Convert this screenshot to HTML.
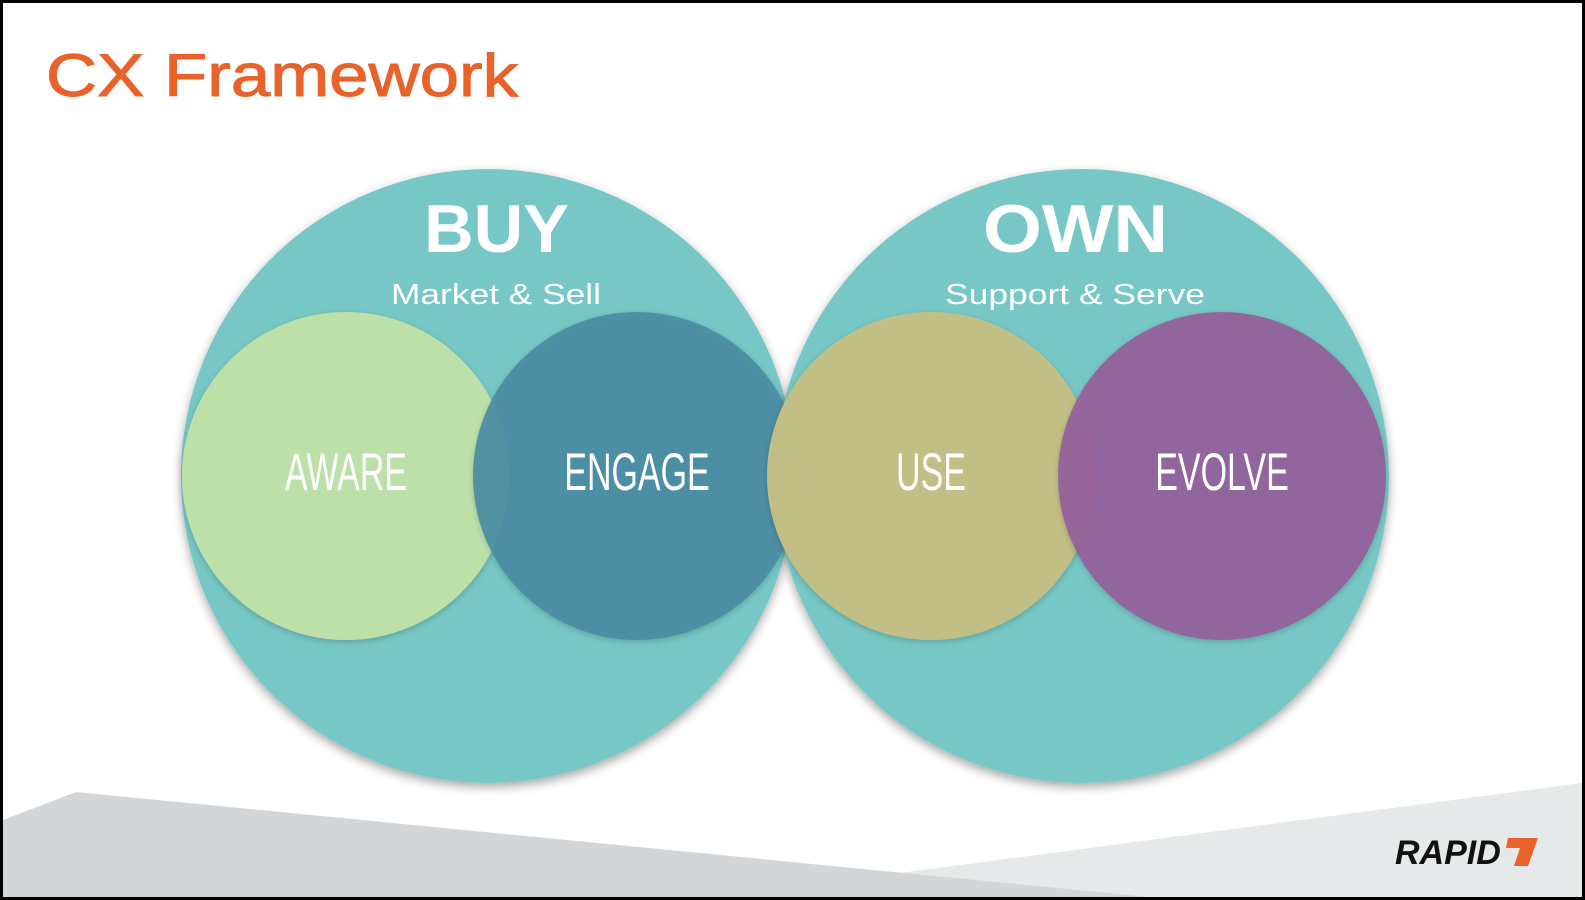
<!DOCTYPE html>
<html><head><meta charset="utf-8"><style>
html,body{margin:0;padding:0;background:#000}
svg{display:block}
</style></head><body>
<svg width="1585" height="900" viewBox="0 0 1585 900" xmlns="http://www.w3.org/2000/svg">
<defs>
<filter id="sh" x="-20%" y="-20%" width="140%" height="140%"><feDropShadow dx="0" dy="4" stdDeviation="5" flood-color="#000" flood-opacity="0.35"/></filter>
<filter id="sh2" x="-20%" y="-20%" width="140%" height="140%"><feDropShadow dx="0" dy="2" stdDeviation="3" flood-color="#000" flood-opacity="0.2"/></filter>
</defs>
<rect x="3" y="3" width="1579" height="894" fill="#fff"/>
<polygon points="1582,783 900,873 1150,897 1582,897" fill="#e6e9ea"/>
<polygon points="76,792 1150,897 3,897 3,820" fill="#d3d6d8"/>
<text x="46" y="96" font-family="Liberation Sans, sans-serif" font-size="60" fill="#e8622a" stroke="#e8622a" stroke-width="1" textLength="472" lengthAdjust="spacingAndGlyphs">CX Framework</text>
<circle cx="488" cy="476" r="307" fill="#76c7c5" filter="url(#sh)"/>
<circle cx="1082" cy="476" r="307" fill="#76c7c5" filter="url(#sh)"/>
<text x="424" y="252" font-family="Liberation Sans, sans-serif" font-weight="bold" font-size="68" fill="#fff" textLength="145" lengthAdjust="spacingAndGlyphs">BUY</text>
<text x="983" y="252" font-family="Liberation Sans, sans-serif" font-weight="bold" font-size="68" fill="#fff" textLength="185" lengthAdjust="spacingAndGlyphs">OWN</text>
<text x="391" y="304" font-family="Liberation Sans, sans-serif" font-size="29" fill="#fff" textLength="210" lengthAdjust="spacingAndGlyphs">Market &amp; Sell</text>
<text x="945" y="304" font-family="Liberation Sans, sans-serif" font-size="29" fill="#fff" textLength="260" lengthAdjust="spacingAndGlyphs">Support &amp; Serve</text>
<circle cx="346" cy="476" r="164" fill="#bde0a9" filter="url(#sh2)"/>
<circle cx="637" cy="476" r="164" fill="#4a8ca3" fill-opacity="0.92" filter="url(#sh2)"/>
<circle cx="931" cy="476" r="164" fill="#c6c084" fill-opacity="0.95" filter="url(#sh2)"/>
<circle cx="1222" cy="476" r="164" fill="#955f9b" fill-opacity="0.92" filter="url(#sh2)"/>
<g font-family="Liberation Sans, sans-serif" font-size="50" fill="#fff" text-anchor="middle">
<text transform="translate(346,490) scale(0.68,1.05)">AWARE</text>
<text transform="translate(637,490) scale(0.68,1.05)">ENGAGE</text>
<text transform="translate(931,490) scale(0.68,1.05)">USE</text>
<text transform="translate(1222,490) scale(0.68,1.05)">EVOLVE</text>
</g>
<text x="1395" y="864" font-family="Liberation Sans, sans-serif" font-weight="bold" font-style="italic" font-size="34" fill="#111">RAPID</text>
<polygon points="1508,838 1538,838 1528,866 1514,866 1520,848 1506,848" fill="#e8622a"/>
</svg>
</body></html>
